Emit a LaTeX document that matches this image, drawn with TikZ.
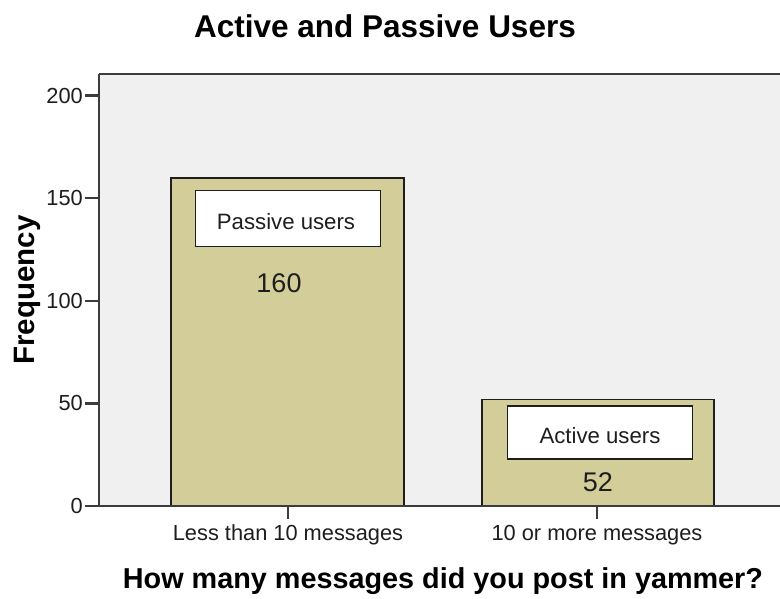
\documentclass[tikz,border=0pt]{standalone}
\usepackage{fontspec}
\setmainfont{Liberation Sans}
\definecolor{plotbg}{RGB}{240,240,240}
\definecolor{barfill}{RGB}{211,206,153}
\definecolor{axisgray}{RGB}{60,60,60}
\definecolor{inkgray}{RGB}{30,30,30}
\tikzset{
  axisline/.style={draw=axisgray, line width=2.6pt},
  tickline/.style={draw=axisgray, line width=2.2pt},
  barbox/.style={draw=inkgray, line width=1.8pt, fill=barfill},
  labelbox/.style={draw=inkgray, line width=1.8pt, fill=white},
  ticklabel/.style={text=inkgray, font=\fontsize{21.8}{25}\selectfont, inner sep=0pt},
  boxlabel/.style={text=inkgray, font=\fontsize{22.2}{26}\selectfont, inner sep=0pt},
  valuelabel/.style={text=inkgray, font=\fontsize{27}{31}\selectfont, inner sep=0pt},
  titlelabel/.style={text=black, font=\bfseries\fontsize{31.5}{36}\selectfont, inner sep=0pt}
}
\begin{document}
\begin{tikzpicture}[x=1pt, y=-1pt]
  % canvas
  \useasboundingbox[fill=white] (0,0) rectangle (780,599);

  % plot area
  \fill[plotbg] (99,74) rectangle (780,506);

  % bars
  \path[barbox] (171,506) rectangle (404,178);
  \path[barbox] (482,506) rectangle (714,399.5);

  % value label boxes
  \node[labelbox, minimum width=185pt, minimum height=56pt, anchor=center] (passivebox) at (288,218.5) {};
  \node[boxlabel] (passivetxt) at (286,221.5) {Passive users};
  \node[labelbox, minimum width=185pt, minimum height=53pt, anchor=center] (activebox) at (600,432.5) {};
  \node[boxlabel] (activetxt) at (600,436) {Active users};

  % counts
  \node[valuelabel] (count160) at (279,283) {160};
  \node[valuelabel] (count52) at (598,482) {52};

  % axes
  \draw[axisline] (99,74) -- (780,74);
  \draw[axisline] (99,74) -- (99,506) -- (780,506);

  % y ticks and labels
  \foreach \v/\yy in {0/506, 50/403.4, 100/300.8, 150/198.2, 200/95.6} {
    \draw[tickline] (85,\yy) -- (99,\yy);
    \node[ticklabel, anchor=east] (ytick\v) at (83,\yy) {\v};
  }

  % x ticks and labels
  \draw[tickline] (288,506) -- (288,519);
  \draw[tickline] (597,506) -- (597,519);
  \node[ticklabel] (xcat1) at (288,535) {Less than 10 messages};
  \node[ticklabel] (xcat2) at (597,535) {10 or more messages};

  % titles
  \node[titlelabel] (charttitle) at (385,26) {Active and Passive Users};
  \node[text=black, font=\bfseries\fontsize{28.8}{33}\selectfont, inner sep=0pt] (xtitle) at (443,581) {How many messages did you post in yammer?};
  \node[text=black, font=\bfseries\fontsize{29.5}{33}\selectfont, inner sep=0pt, rotate=90] (ytitle) at (27,290) {Frequency};
\end{tikzpicture}
\end{document}
